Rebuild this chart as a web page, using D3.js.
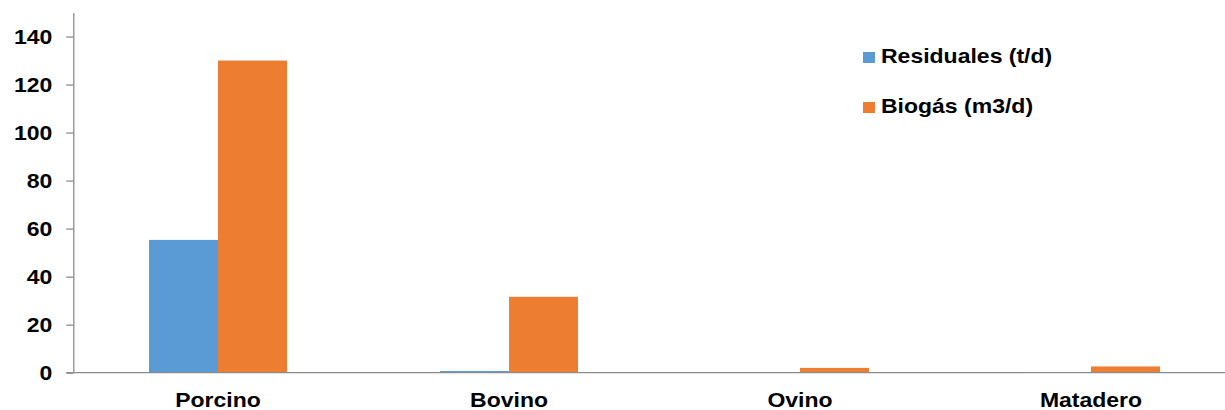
<!DOCTYPE html>
<html>
<head>
<meta charset="utf-8">
<script src="https://cdn.jsdelivr.net/npm/d3@7"></script>
<style>
  body { margin: 0; background: #fff; }
  text { font-family: "Liberation Sans", Arial, sans-serif; font-weight: bold; fill: #000; }
</style>
</head>
<body>
<div id="chart"></div>
<script>
// chart data
var categories = ['Porcino', 'Bovino', 'Ovino', 'Matadero'];
var seriesNames = ['Residuales (t/d)', 'Biogás (m3/d)'];
var residuales = [55.3, 0.7, 0.2, 0.3];
var biogas = [130, 31.6, 2.0, 2.6];
var yTicks = [0, 20, 40, 60, 80, 100, 120, 140];

var colors = ['#5B9BD5', '#ED7D31'];
var axisColor = '#8c8c8c';
var stretch = 1.15; // text in the picture is a bit wide

var width = 1225, height = 410;
var plotLeft = 73.3, plotBase = 372.7, plotTop = 12.5;

var svg = d3.select('#chart')
    .append('svg')
    .attr('width', width)
    .attr('height', height);

// scales
var x0 = d3.scaleBand().domain(categories).range([plotLeft - 0.8, plotLeft - 0.8 + 4 * 291]);
var x1 = d3.scaleBand().domain(seriesNames).range([0, x0.bandwidth()]).paddingOuter(1.109);
var y = d3.scaleLinear().domain([0, 150]).range([plotBase, plotTop]);

var rows = categories.map(function(c, i){
    return { cat: c, vals: [residuales[i], biogas[i]] };
});

// bars
var groups = svg.selectAll('g.cat').data(rows).enter()
    .append('g')
    .attr('class', 'cat')
    .attr('transform', function(d){ return 'translate(' + x0(d.cat) + ',0)'; });

groups.selectAll('rect').data(function(d){
        return d.vals.map(function(v, j){ return { name: seriesNames[j], v: v, j: j }; });
    }).enter()
    .append('rect')
    .attr('x', function(d){ return x1(d.name); })
    .attr('width', x1.bandwidth())
    .attr('y', function(d){ return y(d.v); })
    .attr('height', function(d){ return plotBase - y(d.v); })
    .attr('fill', function(d){ return colors[d.j]; });

// y axis
var yAxis = d3.axisLeft(y).tickValues(yTicks).tickSize(7).tickSizeOuter(0);
var yg = svg.append('g')
    .attr('transform', 'translate(' + plotLeft + ',0)')
    .call(yAxis);
yg.select('.domain').attr('stroke', axisColor).attr('stroke-width', 1.3);
yg.selectAll('.tick line').attr('stroke', axisColor).attr('stroke-width', 1.3);
yg.selectAll('.tick text')
    .attr('x', -21 / stretch)
    .attr('dy', '0.36em')
    .attr('transform', 'scale(' + stretch + ',1)')
    .style('font-size', '20px')
    .style('font-family', '"Liberation Sans", Arial, sans-serif')
    .style('font-weight', 'bold')
    .attr('fill', '#000');

// baseline
svg.append('line')
    .attr('x1', plotLeft - 7).attr('x2', width)
    .attr('y1', plotBase).attr('y2', plotBase)
    .attr('stroke', axisColor)
    .attr('stroke-width', 1.3);

// category labels
svg.selectAll('text.catLabel').data(categories).enter()
    .append('text')
    .attr('class', 'catLabel')
    .attr('text-anchor', 'middle')
    .attr('transform', function(d){
        return 'translate(' + (x0(d) + x0.bandwidth() / 2) + ',406.5) scale(' + stretch + ',1)';
    })
    .style('font-size', '20px')
    .text(function(d){ return d; });

// legend
var legend = svg.selectAll('g.legend').data(seriesNames).enter()
    .append('g')
    .attr('class', 'legend')
    .attr('transform', function(d, i){ return 'translate(863,' + (52 + i * 50) + ')'; });
legend.append('rect')
    .attr('width', 12).attr('height', 11)
    .attr('fill', function(d, i){ return colors[i]; });
legend.append('text')
    .attr('transform', 'translate(18,11.3) scale(' + stretch + ',1)')
    .style('font-size', '20px')
    .text(function(d){ return d; });
</script>
</body>
</html>
